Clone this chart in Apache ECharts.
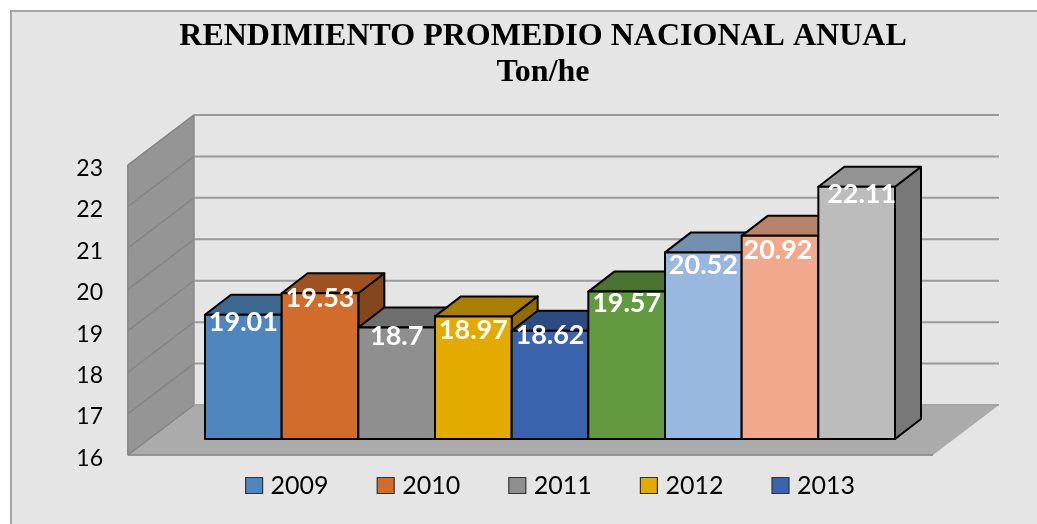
<!DOCTYPE html>
<html>
<head>
<meta charset="utf-8">
<style>html,body{margin:0;padding:0;background:#fff}#c{width:1037px;height:524px}</style>
<script src="https://cdn.jsdelivr.net/npm/echarts@6/dist/echarts.min.js"></script>
</head>
<body>
<div id="c"></div>
<script>
var titleLines = ['RENDIMIENTO PROMEDIO NACIONAL ANUAL', 'Ton/he'];
var categories = ['2009','2010','2011','2012','2013','2014','2015','2016','2017'];
var legendNames = ['2009','2010','2011','2012','2013'];
var values = [19.01, 19.53, 18.7, 18.97, 18.62, 19.57, 20.52, 20.92, 22.11];
var valueTicks = [16, 17, 18, 19, 20, 21, 22, 23];

var frontColors = ['#4f86bd','#d26c2a','#8f8f8f','#e3aa00','#3a63ad','#63993f','#98b8e0','#f2a88a','#bcbcbc'];
var topColors   = ['#3c6890','#9e5220','#6e6e6e','#a97f00','#2c4b82','#4a7330','#7390b0','#b8836b','#949494'];
var sideColors  = ['#33587b','#84461b','#5e5e5e','#906c00','#253f6f','#3e6128','#62799a','#9c6f5b','#787878'];
var labelNudges = [[0,8],[0,5],[0,9],[0,14],[0,4],[0,12],[0,13],[-2,14],[5,8]];

var wallDepth = [66, -50];
var barDepth = [26, -20];

function poly(points, fill, stroke, lw, z2) {
  return {type:'polygon', shape:{points:points}, z2:z2||0,
    style:{fill:fill, stroke:stroke||null, lineWidth:lw||0, lineJoin:'round'}};
}
function shift(p, d) { return [p[0]+d[0], p[1]+d[1]]; }

function renderWalls(params, api) {
  var fl = api.coord([0,16]), fr = api.coord([1,16]), tl = api.coord([0,23]);
  return {type:'group', children:[
    poly([tl, shift(tl,wallDepth), shift(fl,wallDepth), fl], '#959595', '#8c8c8c', 1.5),
    poly([fl, shift(fl,wallDepth), shift(fr,wallDepth), fr], '#ababab', null, 0),
    {type:'line', shape:{x1:fl[0],y1:fl[1],x2:fr[0],y2:fr[1]}, style:{stroke:'#949494',lineWidth:2}},
    {type:'line', shape:{x1:fl[0],y1:fl[1],x2:tl[0],y2:tl[1]}, style:{stroke:'#8c8c8c',lineWidth:2}}
  ]};
}
function renderGridline(params, api) {
  var v = api.value(0);
  var l = api.coord([0,v]), r = api.coord([1,v]);
  var lb = shift(l,wallDepth), rb = shift(r,wallDepth);
  return {type:'group', children:[
    {type:'line', shape:{x1:l[0],y1:l[1],x2:lb[0],y2:lb[1]}, style:{stroke:'#858585',lineWidth:1.5}},
    {type:'line', shape:{x1:lb[0],y1:lb[1],x2:rb[0],y2:rb[1]}, style:{stroke:v===16?'#a5a5a5':'#9a9a9a',lineWidth:2}}
  ]};
}
function renderBar(params, api) {
  var i = api.value(0), v = api.value(1);
  var w = api.size([1,0])[0];
  var c = api.coord([i,v]), b = api.coord([i,16]);
  var tl=[c[0]-w/2,c[1]], tr=[c[0]+w/2,c[1]], bl=[b[0]-w/2,b[1]], br=[b[0]+w/2,b[1]];
  var n = labelNudges[i];
  return {type:'group', children:[
    poly([tr, shift(tr,barDepth), shift(br,barDepth), br], sideColors[i], '#000', 2),
    poly([tl, shift(tl,barDepth), shift(tr,barDepth), tr], topColors[i], '#000', 2),
    poly([tl, tr, br, bl], frontColors[i], '#000', 2),
    {type:'text', z2:5, style:{text:String(v), x:c[0]+n[0], y:c[1]+n[1], align:'center', verticalAlign:'middle',
      fill:'#fff', font:'bold 27px Lato'}}
  ]};
}

var series = [
  {type:'custom', name:'walls', xAxisIndex:0, yAxisIndex:0, silent:true, renderItem:renderWalls, data:[[0]], z:1},
  {type:'custom', name:'gridlines', xAxisIndex:0, yAxisIndex:0, silent:true, renderItem:renderGridline,
   data:valueTicks.map(function(t){return [t];}), encode:{y:0}, z:1}
];
categories.forEach(function(name, i){
  series.push({type:'custom', name:name, xAxisIndex:1, yAxisIndex:1, silent:true, z:2,
    renderItem:renderBar, data:[[i, values[i]]], encode:{x:0,y:1},
    itemStyle:{color:frontColors[i]}});
});

var chart = echarts.init(document.getElementById('c'), null, {renderer:'canvas'});
chart.setOption({
  animation:false,
  backgroundColor:'#ffffff',
  graphic:[{type:'rect', z:-10, silent:true, shape:{x:11,y:11,width:1040,height:530},
    style:{fill:'#e5e5e5', stroke:'#a6a6a6', lineWidth:2}}],
  title:{left:538, top:14, textAlign:'center',
    text:titleLines.join('\n'),
    textStyle:{fontFamily:'Liberation Serif', fontWeight:'bold', fontSize:32, lineHeight:36, color:'#000'}},
  legend:{data:legendNames, left:240, top:468, icon:'rect', itemWidth:17, itemHeight:16, itemGap:48,
    itemStyle:{borderColor:'#333', borderWidth:1.2}, selectedMode:false,
    textStyle:{fontFamily:'Lato', fontSize:25, color:'#000', padding:[0,0,0,3]}},
  grid:[
    {left:128, width:805, top:165, height:290},
    {left:205, width:690, top:150, height:289}
  ],
  xAxis:[
    {type:'value', gridIndex:0, min:0, max:1, show:false},
    {type:'category', gridIndex:1, data:categories, show:false}
  ],
  yAxis:[
    {type:'value', gridIndex:0, min:16, max:23, interval:1,
      axisLine:{show:false}, axisTick:{show:false}, splitLine:{show:false},
      axisLabel:{fontFamily:'Lato', fontSize:23, color:'#000', margin:25, verticalAlign:'top', lineHeight:7}},
    {type:'value', gridIndex:1, min:16, max:23, interval:1, show:false, splitLine:{show:false}}
  ],
  series:series
});
</script>
</body>
</html>
